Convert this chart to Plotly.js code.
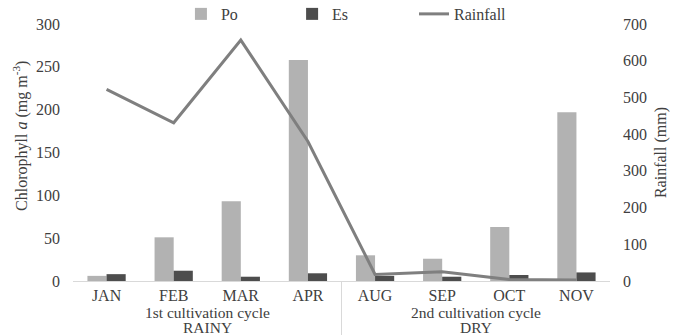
<!DOCTYPE html>
<html>
<head>
<meta charset="utf-8">
<script src="https://cdn.plot.ly/plotly-3.0.1.min.js"></script>
<style>html,body{margin:0;padding:0;background:#fff;}#chart{width:677px;height:335px;}</style>
</head>
<body>
<div id="chart"></div>
<script>
var months = ["JAN","FEB","MAR","APR","AUG","SEP","OCT","NOV"];
var po = [6, 51, 93, 258, 30, 26, 63, 197];
var es = [8, 12, 5, 9, 6, 5, 7, 10];
var rainfall = [522, 431, 656, 380, 18, 25, 4, 3];
var cycleLabels = ["1st cultivation cycle", "2nd cultivation cycle"];
var seasonLabels = ["RAINY", "DRY"];
var groupCenters = [1.5, 5.5];

var fam = "'Liberation Serif', 'DejaVu Serif', serif";
var txt = "#404040";
var fs = 16;

var traces = [
  {type: "bar", name: "Po", x: months, y: po, marker: {color: "#b2b2b2"}, legend: "legend"},
  {type: "bar", name: "Es", x: months, y: es, marker: {color: "#4d4d4d"}, legend: "legend2"},
  {type: "scatter", mode: "lines", name: "Rainfall", x: months, y: rainfall, yaxis: "y2",
   line: {color: "#7f7f7f", width: 3}, legend: "legend3"}
];

var annotations = [];
cycleLabels.forEach(function(t, i){
  annotations.push({text: t, x: groupCenters[i], xref: "x", y: -0.122, yref: "paper", yanchor: "middle",
          showarrow: false, font: {family: fam, size: 15.5, color: txt}});
  annotations.push({text: seasonLabels[i], x: groupCenters[i], xref: "x", y: -0.18, yref: "paper", yanchor: "middle",
          showarrow: false, font: {family: fam, size: 15.5, color: txt}});
});
annotations.push({text: "Chlorophyll <i>a</i> (mg m<sup>-3</sup>)", textangle: -90,
  x: -0.099, xref: "paper", xanchor: "center", y: 0.564, yref: "paper", yanchor: "middle",
  showarrow: false, font: {family: fam, size: fs, color: txt}});

function leg(x){
  return {x: x, y: 1.039, xanchor: "left", yanchor: "middle", orientation: "h",
          bgcolor: "rgba(0,0,0,0)", font: {family: fam, size: fs, color: txt}, itemwidth: 30};
}

var layout = {
  width: 677, height: 335,
  margin: {l: 73, r: 67, t: 24, b: 54, autoexpand: false},
  paper_bgcolor: "#fff", plot_bgcolor: "#fff",
  font: {family: fam, size: fs, color: txt},
  barmode: "group", bargap: 0.43, bargroupgap: 0,
  xaxis: {type: "category", showline: true, linecolor: "#d9d9d9", linewidth: 1, showgrid: false,
          ticks: "", tickfont: {family: fam, size: fs, color: txt}, zeroline: false},
  yaxis: {range: [0, 300], dtick: 50, showgrid: false, zeroline: false, showline: false,
          ticklabelstandoff: 12, tickfont: {family: fam, size: fs, color: txt}},
  yaxis2: {range: [0, 700], dtick: 100, overlaying: "y", side: "right", showgrid: false, zeroline: false,
           ticklabelstandoff: 12, tickfont: {family: fam, size: fs, color: txt},
           title: {text: "Rainfall (mm)", font: {family: fam, size: fs, color: txt}, standoff: 8}},
  legend: leg(0.201),
  legend2: leg(0.408),
  legend3: leg(0.635),
  shapes: [{type: "line", xref: "x", yref: "paper", x0: 3.5, x1: 3.5, y0: 0, y1: -0.215,
            line: {color: "#d9d9d9", width: 1}}],
  annotations: annotations,
  showlegend: true
};

Plotly.newPlot("chart", traces, layout, {staticPlot: true, displayModeBar: false});
</script>
</body>
</html>
